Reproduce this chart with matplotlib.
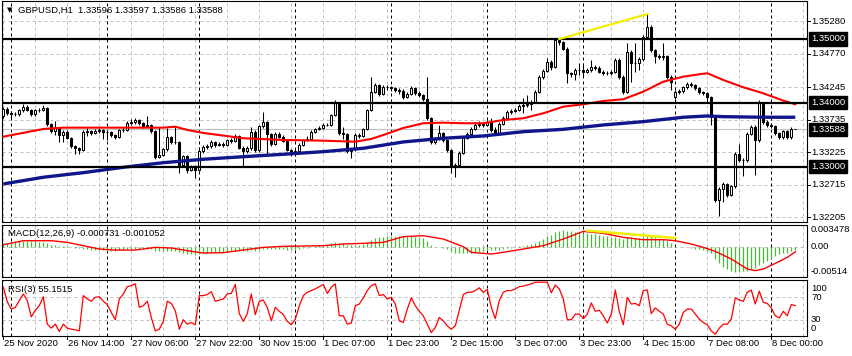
import matplotlib
matplotlib.use('Agg')
import matplotlib.pyplot as plt

W, H = 852, 356

# ---- GBPUSD H1 candles ----
closes = [
    1.3390, 1.3384, 1.3382, 1.3382, 1.3388, 1.3394, 1.3389, 1.3382, 1.3388, 1.3389,
    1.3392, 1.3367, 1.3356, 1.3360, 1.3350, 1.3355, 1.3345, 1.3332, 1.3329, 1.3326,
    1.3355, 1.3356, 1.3353, 1.3356, 1.3357, 1.3355, 1.3354, 1.3349, 1.3347, 1.3357,
    1.3358, 1.3369, 1.3370, 1.3373, 1.3368, 1.3364, 1.3365, 1.3356, 1.3315, 1.3318,
    1.3327, 1.3346, 1.3339, 1.3338, 1.3303, 1.3316, 1.3295, 1.3300, 1.3295, 1.3324,
    1.3331, 1.3332, 1.3338, 1.3334, 1.3336, 1.3334, 1.3341, 1.3340, 1.3348, 1.3330,
    1.3324, 1.3329, 1.3355, 1.3326, 1.3363, 1.3370, 1.3351, 1.3336, 1.3351, 1.3347,
    1.3340, 1.3326, 1.3320, 1.3325, 1.3334, 1.3342, 1.3344, 1.3355, 1.3359, 1.3361,
    1.3365, 1.3366, 1.3381, 1.3399, 1.3352, 1.3351, 1.3325, 1.3327, 1.3350, 1.3348,
    1.3359, 1.3389, 1.3417, 1.3428, 1.3414, 1.3425, 1.3424, 1.3423, 1.3420, 1.3419,
    1.3409, 1.3414, 1.3423, 1.3415, 1.3412, 1.3406, 1.3376, 1.3338, 1.3344, 1.3352,
    1.3342, 1.3326, 1.3301, 1.3303, 1.3322, 1.3345, 1.3351, 1.3359, 1.3366, 1.3367,
    1.3366, 1.3370, 1.3357, 1.3353, 1.3367, 1.3376, 1.3386, 1.3387, 1.3389, 1.3395,
    1.3397, 1.3398, 1.3402, 1.3417, 1.3440, 1.3450, 1.3464, 1.3456, 1.3498, 1.3495,
    1.3485, 1.3446, 1.3445, 1.3452, 1.3451, 1.3449, 1.3451, 1.3456, 1.3455, 1.3449,
    1.3447, 1.3446, 1.3449, 1.3467, 1.3441, 1.3417, 1.3480, 1.3463, 1.3462, 1.3468,
    1.3503, 1.3519, 1.3482, 1.3474, 1.3472, 1.3473, 1.3441, 1.3433, 1.3417, 1.3418,
    1.3424, 1.3429, 1.3428, 1.3423, 1.3417, 1.3415, 1.3409, 1.3378, 1.3247, 1.3265,
    1.3273, 1.3256, 1.3269, 1.3320, 1.3311, 1.3310, 1.3351, 1.3362, 1.3341, 1.3399,
    1.3370, 1.3366, 1.3364, 1.3353, 1.3347, 1.3356, 1.3346, 1.33596, 1.33588,
]
highs = [
    1.3393, 1.3393, 1.3387, 1.3386, 1.3391, 1.3398, 1.3396, 1.3391, 1.3390, 1.3392,
    1.3397, 1.3394, 1.3369, 1.3371, 1.3362, 1.3358, 1.3357, 1.3347, 1.3334, 1.3331,
    1.3357, 1.3361, 1.3358, 1.3359, 1.3360, 1.3359, 1.3358, 1.3356, 1.3351, 1.3359,
    1.3362, 1.3372, 1.3374, 1.3376, 1.3374, 1.3370, 1.3380, 1.3367, 1.3358, 1.3362,
    1.3330, 1.3360, 1.3348, 1.3362, 1.3340, 1.3319, 1.3318, 1.3303, 1.3302, 1.3331,
    1.3334, 1.3336, 1.3341, 1.3340, 1.3339, 1.3338, 1.3343, 1.3345, 1.3351, 1.3350,
    1.3332, 1.3333, 1.3362, 1.3358, 1.3366, 1.3385, 1.3372, 1.3353, 1.3354, 1.3354,
    1.3349, 1.3342, 1.3328, 1.3327, 1.3337, 1.3344, 1.3348, 1.3357, 1.3361, 1.3364,
    1.3368, 1.3369, 1.3383, 1.3405, 1.3401, 1.3362, 1.3353, 1.3330, 1.3352, 1.3353,
    1.3361, 1.3391, 1.3440, 1.3431, 1.3430, 1.3428, 1.3428, 1.3427, 1.3425, 1.3423,
    1.3421, 1.3417, 1.3426, 1.3425, 1.3418, 1.3414, 1.3441, 1.3378, 1.3347, 1.3365,
    1.3354, 1.3344, 1.3328, 1.3306, 1.3325, 1.3348, 1.3354, 1.3362, 1.3369, 1.3371,
    1.3370, 1.3373, 1.3376, 1.3362, 1.3370, 1.3379, 1.3389, 1.3390, 1.3392, 1.3398,
    1.3407, 1.3412, 1.3405, 1.3420, 1.3443, 1.3453, 1.3470, 1.3467, 1.3499, 1.3500,
    1.3497, 1.3487, 1.3449, 1.3455, 1.3462, 1.3462, 1.3455, 1.3467, 1.3459, 1.3457,
    1.3452, 1.3450, 1.3452, 1.3470, 1.3470, 1.3443, 1.3494, 1.3483, 1.3493, 1.3471,
    1.3506, 1.3539, 1.3522, 1.3485, 1.3477, 1.3493, 1.3475, 1.3443, 1.3420, 1.3422,
    1.3427, 1.3432, 1.3432, 1.3430, 1.3425, 1.3419, 1.3417, 1.3411, 1.3380, 1.3268,
    1.3276, 1.3275, 1.3272, 1.3323, 1.3336, 1.3314, 1.3354, 1.3366, 1.3365, 1.3405,
    1.3401, 1.3373, 1.3368, 1.3366, 1.3355, 1.3358, 1.3358, 1.3362, 1.33597,
]
lows = [
    1.3377, 1.3381, 1.3376, 1.3379, 1.3380, 1.3386, 1.3387, 1.3379, 1.3380, 1.3385,
    1.3387, 1.3363, 1.3352, 1.3350, 1.3339, 1.3339, 1.3343, 1.3329, 1.3320, 1.3320,
    1.3324, 1.3348, 1.3350, 1.3351, 1.3353, 1.3343, 1.3342, 1.3347, 1.3344, 1.3345,
    1.3355, 1.3356, 1.3366, 1.3367, 1.3365, 1.3361, 1.3362, 1.3353, 1.3312, 1.3314,
    1.3316, 1.3325, 1.3336, 1.3335, 1.3290, 1.3300, 1.3290, 1.3293, 1.3282, 1.3293,
    1.3321, 1.3327, 1.3330, 1.3331, 1.3332, 1.3331, 1.3332, 1.3337, 1.3338, 1.3327,
    1.3301, 1.3322, 1.3326, 1.3323, 1.3323, 1.3361, 1.3317, 1.3333, 1.3334, 1.3345,
    1.3338, 1.3324, 1.3316, 1.3317, 1.3323, 1.3332, 1.3340, 1.3342, 1.3353, 1.3357,
    1.3359, 1.3363, 1.3364, 1.3379, 1.3349, 1.3344, 1.3321, 1.3313, 1.3325, 1.3345,
    1.3346, 1.3357, 1.3387, 1.3415, 1.3411, 1.3412, 1.3420, 1.3419, 1.3417, 1.3414,
    1.3406, 1.3407, 1.3412, 1.3413, 1.3409, 1.3403, 1.3373, 1.3335, 1.3336, 1.3342,
    1.3339, 1.3323, 1.3290, 1.3284, 1.3300, 1.3320, 1.3343, 1.3349, 1.3357, 1.3362,
    1.3362, 1.3364, 1.3355, 1.3350, 1.3351, 1.3365, 1.3374, 1.3383, 1.3385, 1.3387,
    1.3384, 1.3394, 1.3389, 1.3400, 1.3415, 1.3438, 1.3448, 1.3452, 1.3454, 1.3491,
    1.3482, 1.3431, 1.3441, 1.3435, 1.3444, 1.3442, 1.3446, 1.3449, 1.3452, 1.3446,
    1.3444, 1.3443, 1.3443, 1.3447, 1.3438, 1.3414, 1.3415, 1.3433, 1.3449, 1.3451,
    1.3466, 1.3500, 1.3479, 1.3462, 1.3469, 1.3467, 1.3438, 1.3420, 1.3406, 1.3414,
    1.3416, 1.3422, 1.3425, 1.3420, 1.3414, 1.3412, 1.3402, 1.3365, 1.3245, 1.3222,
    1.3245, 1.3252, 1.3254, 1.3267, 1.3308, 1.3285, 1.3308, 1.3349, 1.3287, 1.3339,
    1.3367, 1.3362, 1.3360, 1.3350, 1.3343, 1.3344, 1.3343, 1.3344, 1.33586,
]
first_open = 1.3380
gap_opens = {168: 1.3409}   # Monday open after the weekend gap

# moving averages (red = fast, blue = slow), read at sample bars
ma_red_bars = [0, 10, 15, 20, 30, 40, 43, 46, 50, 60, 70, 80, 88, 92, 95, 100, 105,
               110, 115, 120, 125, 130, 135, 140, 145, 150, 155, 160, 165, 170, 174,
               176, 180, 185, 190, 195, 198]
ma_red = [1.33470, 1.33590, 1.33611, 1.33611, 1.33611, 1.33611, 1.33626, 1.33575,
          1.33528, 1.33445, 1.33418, 1.33407, 1.33391, 1.33434, 1.33496, 1.33606,
          1.33680, 1.33689, 1.33680, 1.33680, 1.33731, 1.33758, 1.33836, 1.33940,
          1.33977, 1.34029, 1.34056, 1.34175, 1.34331, 1.34410, 1.34447, 1.34463,
          1.34358, 1.34243, 1.34149, 1.34034, 1.33977]
ma_blue_bars = [0, 10, 20, 30, 40, 50, 60, 70, 80, 90, 100, 110, 120, 130, 140, 150,
                160, 170, 176, 180, 190, 198]
ma_blue = [1.32729, 1.32834, 1.32906, 1.32990, 1.33062, 1.33116, 1.33156, 1.33194,
           1.33235, 1.33288, 1.33387, 1.33445, 1.33481, 1.33548, 1.33585, 1.33653,
           1.33705, 1.33774, 1.33794, 1.33783, 1.33774, 1.33774]

# MACD(12,26,9): main histogram per bar, signal at sample bars
macd_main = [
    0.00069, 0.00082, 0.00103, 0.00110, 0.00116, 0.00123, 0.00123, 0.00123, 0.00116, 0.00103,
    0.00089, 0.00069, 0.00041, 0.00027, 0.00021, 0.00014, 0.00007, -0.00014, -0.00027, -0.00034,
    -0.00041, -0.00055, -0.00069, -0.00069, -0.00069, -0.00075, -0.00082, -0.00082, -0.00082, -0.00075,
    -0.00069, -0.00055, -0.00048, -0.00041, -0.00041, -0.00041, -0.00041, -0.00041, -0.00082, -0.00096,
    -0.00096, -0.00082, -0.00082, -0.00082, -0.00116, -0.00123, -0.00151, -0.00158, -0.00164, -0.00151,
    -0.00137, -0.00130, -0.00123, -0.00116, -0.00110, -0.00110, -0.00103, -0.00096, -0.00082, -0.00089,
    -0.00096, -0.00096, -0.00075, -0.00082, -0.00062, -0.00041, -0.00041, -0.00055, -0.00048, -0.00048,
    -0.00048, -0.00062, -0.00069, -0.00062, -0.00048, -0.00034, -0.00021, 0.00000, 0.00014, 0.00027,
    0.00041, 0.00048, 0.00069, 0.00103, 0.00082, 0.00075, 0.00041, 0.00027, 0.00034, 0.00041,
    0.00055, 0.00089, 0.00144, 0.00185, 0.00192, 0.00206, 0.00212, 0.00219, 0.00226, 0.00226,
    0.00219, 0.00212, 0.00212, 0.00206, 0.00192, 0.00171, 0.00110, 0.00027, 0.00000, -0.00014,
    -0.00027, -0.00055, -0.00096, -0.00123, -0.00137, -0.00137, -0.00130, -0.00123, -0.00110, -0.00103,
    -0.00089, -0.00075, -0.00075, -0.00075, -0.00062, -0.00048, -0.00034, -0.00021, -0.00007, 0.00007,
    0.00021, 0.00034, 0.00055, 0.00082, 0.00123, 0.00164, 0.00212, 0.00233, 0.00301, 0.00329,
    0.00343, 0.00329, 0.00315, 0.00301, 0.00295, 0.00281, 0.00274, 0.00267, 0.00253, 0.00240,
    0.00226, 0.00212, 0.00206, 0.00206, 0.00185, 0.00158, 0.00192, 0.00192, 0.00185, 0.00185,
    0.00212, 0.00240, 0.00226, 0.00206, 0.00185, 0.00164, 0.00123, 0.00082, 0.00014, -0.00007,
    -0.00014, -0.00014, -0.00027, -0.00041, -0.00055, -0.00069, -0.00082, -0.00123, -0.00253, -0.00343,
    -0.00411, -0.00466, -0.00493, -0.00514, -0.00514, -0.00500, -0.00493, -0.00459, -0.00438, -0.00370,
    -0.00343, -0.00301, -0.00247, -0.00192, -0.00158, -0.00137, -0.00123, -0.00096, -0.00073,
]
macd_sig_bars = [0, 5, 12, 16, 20, 24, 28, 33, 38, 42, 46, 50, 55, 60, 65, 70, 75, 80,
                 85, 90, 95, 100, 105, 110, 115, 117, 122, 125, 130, 135, 140, 145, 150,
                 155, 160, 165, 168, 172, 175, 178, 182, 186, 188, 190, 193, 196, 198]
macd_sig = [0.00041, 0.00123, 0.00123, 0.00089, 0.00021, -0.00048, -0.00069, -0.00069,
            -0.00014, -0.00027, -0.00082, -0.00130, -0.00123, -0.00069, -0.00014, 0.00007,
            0.00014, 0.00021, 0.00055, 0.00069, 0.00089, 0.00206, 0.00226, 0.00158, 0.00000,
            -0.00116, -0.00151, -0.00116, -0.00048, 0.00021, 0.00158, 0.00315, 0.00274,
            0.00192, 0.00144, 0.00144, 0.00123, 0.00055, -0.00014, -0.00096, -0.00253,
            -0.00459, -0.00493, -0.00459, -0.00343, -0.00219, -0.00105]

# RSI(3) per bar
rsi = [
    88, 62, 49, 52, 64, 76, 64, 35, 47, 55,
    71, 22, 15, 22, 9, 22, 15, 13, 12, 10,
    73, 67, 63, 70, 71, 63, 57, 43, 30, 67,
    76, 89, 91, 94, 52, 55, 63, 34, 10, 13,
    27, 63, 59, 46, 13, 30, 22, 25, 21, 73,
    73, 75, 80, 63, 65, 67, 76, 77, 93, 41,
    27, 41, 76, 39, 63, 65, 52, 28, 52, 45,
    39, 27, 21, 31, 55, 73, 79, 82, 85, 89,
    93, 77, 88, 94, 37, 37, 22, 24, 55, 58,
    69, 82, 91, 94, 73, 75, 67, 70, 58, 28,
    25, 49, 69, 55, 45, 37, 22, 7, 16, 34,
    28, 19, 13, 19, 47, 75, 79, 79, 82, 87,
    79, 84, 52, 32, 64, 79, 82, 82, 85, 89,
    90, 92, 94, 97, 97, 97, 97, 78, 92, 85,
    67, 30, 30, 40, 40, 32, 40, 60, 45, 47,
    37, 24, 40, 83, 45, 21, 70, 58, 59, 55,
    82, 83, 41, 51, 45, 40, 22, 19, 13, 22,
    43, 49, 49, 40, 31, 25, 21, 10, 4, 15,
    22, 22, 31, 69, 65, 63, 79, 83, 58, 81,
    61, 59, 51, 37, 33, 45, 37, 57, 55.1515,
]

# chart objects
levels = [1.35000, 1.34000, 1.33000]
price_grid = [1.35280, 1.34770, 1.34245, 1.33735, 1.33225, 1.32715, 1.32205]
last_price = 1.33588
trend_bars = [139, 161]
trend_prices = [1.3500, 1.3539]
macd_trend_bars = [146, 168]
macd_trend_vals = [0.00329, 0.00178]
rsi_levels = [70, 30]

day_starts = [2, 26, 49, 73, 97, 121, 145, 168, 192]
time_ticks = [0, 16, 32, 48, 64, 80, 96, 112, 128, 144, 160, 176, 192]
time_labels = ['25 Nov 2020', '26 Nov 14:00', '27 Nov 06:00', '27 Nov 22:00',
               '30 Nov 15:00', '1 Dec 07:00', '1 Dec 23:00', '2 Dec 15:00',
               '3 Dec 07:00', '3 Dec 23:00', '4 Dec 15:00', '7 Dec 08:00',
               '8 Dec 00:00']

header = 'GBPUSD,H1  1.33596 1.33597 1.33586 1.33588'
macd_title = 'MACD(12,26,9) -0.000731 -0.001052'
rsi_title = 'RSI(3) 55.1515'

plt.rcParams['font.family'] = ['Liberation Sans', 'DejaVu Sans']

GRID = '#c0c0c0'
RED = '#ff0000'
BLUE = '#0f168c'
YELLOW = '#f2ee00'
GREEN = '#4cb83c'
FS = 6.8


def add_axes_px(fig, left, top, right, bottom):
    return fig.add_axes([left / W, 1 - bottom / H, (right - left) / W, (bottom - top) / H])


fig = plt.figure(figsize=(W / 100, H / 100), dpi=100)
fig.patch.set_facecolor('white')

ax_p = add_axes_px(fig, 2, 1, 807, 222)
ax_m = add_axes_px(fig, 2, 225, 807, 277)
ax_r = add_axes_px(fig, 2, 280, 807, 336)

n = len(closes)
xs = list(range(n))
x_lim = (-0.325, 200.925)

for ax in (ax_p, ax_m, ax_r):
    ax.set_xlim(*x_lim)
    ax.set_xticks([])
    ax.set_yticks([])
    for s in ax.spines.values():
        s.set_linewidth(0.8)
        s.set_color('black')
    # gray vertical grid every 8 bars, black dashed day separators
    for g in range(0, 201, 8):
        ax.axvline(g, color=GRID, lw=0.72, ls=(0, (3, 3)), zorder=0)
    for d in day_starts:
        ax.axvline(d, color='black', lw=0.72, ls=(0, (3, 3)), zorder=1)

ax_p.set_ylim(1.32133, 1.35595)
ax_m.set_ylim(-0.00623, 0.00446)
ax_r.set_ylim(0.9, 100.9)

# ---- price panel ----
for g in price_grid:
    ax_p.axhline(g, color=GRID, lw=0.72, ls=(0, (3, 3)), zorder=0)
ax_p.axhline(last_price, color=GRID, lw=0.8, zorder=1)

opens = [first_open] + closes[:-1]
for k, v in gap_opens.items():
    opens[k] = v

ax_p.vlines(xs, lows, highs, color='black', lw=0.75, zorder=2)
for i in xs:
    o, c = opens[i], closes[i]
    bull = c >= o
    ax_p.bar(i, abs(c - o), bottom=min(o, c), width=0.5,
             color='white' if bull else 'black', edgecolor='black',
             linewidth=0.75, zorder=3)

ax_p.plot(ma_blue_bars, ma_blue, color=BLUE, lw=2.4, zorder=4, solid_capstyle='butt')
ax_p.plot(ma_red_bars, ma_red, color=RED, lw=1.5, zorder=4)
for lv in levels:
    ax_p.axhline(lv, color='black', lw=1.6, zorder=5)
ax_p.plot(trend_bars, trend_prices, color=YELLOW, lw=1.6, zorder=5)

# right price scale
ytr = ax_p.get_yaxis_transform()
dx = 4 / 805
for g in price_grid:
    ax_p.plot([1, 1 + 2.5 / 805], [g, g], transform=ytr, color='black', lw=0.7, clip_on=False)
    ax_p.text(1 + dx, g, f'{g:.5f}', transform=ytr, fontsize=FS, va='center', ha='left',
              color='black', clip_on=False)
for lv in levels + [last_price]:
    ax_p.text(1 + dx, lv, f'{lv:.5f}', transform=ytr, fontsize=FS, va='center', ha='left',
              color='white', clip_on=False,
              bbox=dict(boxstyle='square,pad=0.22', fc='black', ec='black'))

fig.text(7 / W, 1 - 10.5 / H, '\u25bc', fontsize=5, va='center', ha='left', color='black',
         family='DejaVu Sans')
fig.text(18 / W, 1 - 10.5 / H, header, fontsize=FS, va='center', ha='left', color='black')

# ---- MACD panel ----
ax_m.axhline(0, color=GRID, lw=0.72, ls=(0, (3, 3)), zorder=0)
ax_m.vlines(xs, 0, macd_main, color=GREEN, lw=0.9, zorder=2)
ax_m.plot(macd_sig_bars, macd_sig, color=RED, lw=1.0, zorder=3)
ax_m.plot(macd_trend_bars, macd_trend_vals, color=YELLOW, lw=1.8, zorder=4)
ytr_m = ax_m.get_yaxis_transform()
for v, s in [(0.003478, '0.003478'), (0.0, '0.00'), (-0.00514, '-0.00514')]:
    ax_m.text(1 + dx, v, s, transform=ytr_m, fontsize=FS, va='center', ha='left', clip_on=False)
fig.text(8 / W, 1 - 234 / H, macd_title, fontsize=FS, va='center', ha='left', color='black')

# ---- RSI panel ----
for lv in rsi_levels:
    ax_r.axhline(lv, color=GRID, lw=0.72, ls=(0, (3, 3)), zorder=0)
ax_r.plot(xs, rsi, color=RED, lw=0.9, zorder=3)
ytr_r = ax_r.get_yaxis_transform()
for v, s in [(100, '100'), (70, '70'), (30, '30'), (0, '0')]:
    yv = min(max(v, 15), 86)
    ax_r.text(1 + dx, yv, s, transform=ytr_r, fontsize=FS, va='center', ha='left', clip_on=False)
fig.text(8 / W, 1 - 290 / H, rsi_title, fontsize=FS, va='center', ha='left', color='black')

# ---- time axis ----
xtr = ax_r.get_xaxis_transform()
for t, lab in zip(time_ticks, time_labels):
    ax_r.plot([t, t], [0, -3 / 56], transform=xtr, color='black', lw=0.7, clip_on=False)
    ax_r.text(t + 0.2, -0.13, lab, transform=xtr, fontsize=FS, va='center', ha='left',
              clip_on=False)

fig.savefig('out.png', dpi=100, facecolor='white')
